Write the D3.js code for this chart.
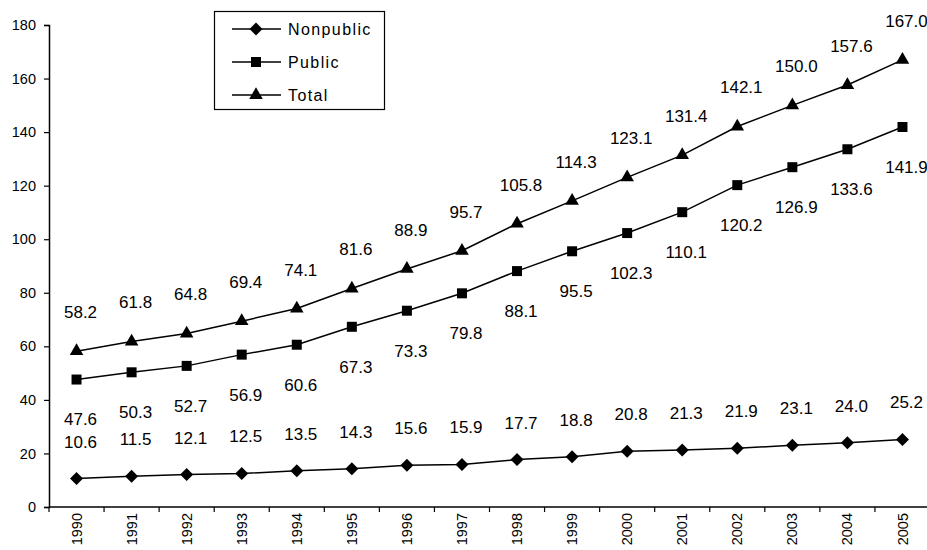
<!DOCTYPE html>
<html><head><meta charset="utf-8">
<script src="https://cdn.jsdelivr.net/npm/d3@7"></script>
<style>body{margin:0;background:#fff}svg{display:block}text{font-family:"Liberation Sans",Arial,sans-serif;fill:#000}</style>
</head><body><svg id="c" width="927" height="550"></svg>
<script>
const years = ["1990","1991","1992","1993","1994","1995","1996","1997","1998","1999","2000","2001","2002","2003","2004","2005"];
const nonpublic = [10.6,11.5,12.1,12.5,13.5,14.3,15.6,15.9,17.7,18.8,20.8,21.3,21.9,23.1,24.0,25.2];
const publicVals = [47.6,50.3,52.7,56.9,60.6,67.3,73.3,79.8,88.1,95.5,102.3,110.1,120.2,126.9,133.6,141.9];
const total = [58.2,61.8,64.8,69.4,74.1,81.6,88.9,95.7,105.8,114.3,123.1,131.4,142.1,150.0,157.6,167.0];
const yTicks = [0,20,40,60,80,100,120,140,160,180];
const seriesNames = ["Nonpublic","Public","Total"];

const svg = d3.select("#c");
const L = 49, R = 930, T = 25, B = 507;
const x = d3.scaleBand().domain(years).range([L, R]);
const y = d3.scaleLinear().domain([0,180]).range([B, T]);

// y axis
const ya = svg.append("g").attr("transform",`translate(${L},0)`)
  .call(d3.axisLeft(y).tickValues(yTicks).tickSize(5).tickPadding(8).tickFormat(d3.format("d")))
  .attr("font-size",14.5);
ya.select(".domain").attr("stroke","#000").attr("stroke-width",1.5);
ya.selectAll(".tick line").attr("stroke","#000").attr("stroke-width",1.2);
ya.selectAll(".tick text").attr("font-size",14.5).style("font-size","14.5px");

// x axis
const xa = svg.append("g").attr("transform",`translate(0,${B})`)
  .call(d3.axisBottom(x).tickSize(0).tickPadding(0))
  .attr("font-size",14.5);
xa.select(".domain").attr("stroke","#000").attr("stroke-width",1.5).attr("d",`M${L},0H${R}`);
xa.selectAll(".tick text").attr("transform","rotate(-90)").attr("text-anchor","end")
  .attr("x",-6).attr("y",0).attr("dy","0.35em").attr("font-size",14.5).style("font-size","14.5px");
const bounds = years.map(d => x(d)).concat([x(years[years.length-1]) + x.bandwidth()]);
xa.selectAll(".btick").data(bounds).enter().append("line")
  .attr("x1",d=>d).attr("x2",d=>d).attr("y1",0).attr("y2",5).attr("stroke","#000").attr("stroke-width",1.2);

const cx = d => x(d) + x.bandwidth()/2;
const diamond = "M0,-6.5L6.5,0L0,6.5L-6.5,0Z";
const symbols = {Nonpublic: () => diamond,
                 Public: d3.symbol().type(d3.symbolSquare).size(100),
                 Total: d3.symbol().type(d3.symbolTriangle).size(80)};
const data = {Nonpublic: nonpublic, Public: publicVals, Total: total};
const labelDy = {Nonpublic: -37, Public: 40, Total: -39};

seriesNames.forEach(name => {
  const vals = data[name];
  const line = d3.line().x((d,i)=>cx(years[i])).y(d=>y(d));
  svg.append("path").datum(vals).attr("d",line).attr("fill","none").attr("stroke","#000").attr("stroke-width",1.5);
  svg.append("g").selectAll("path").data(vals).enter().append("path")
    .attr("d",symbols[name]).attr("fill","#000")
    .attr("transform",(d,i)=>`translate(${cx(years[i])},${y(d)})`);
  svg.append("g").selectAll("text").data(vals).enter().append("text")
    .attr("x",(d,i)=>cx(years[i])+4).attr("y",d=>y(d)+labelDy[name])
    .attr("dy","0.35em").attr("text-anchor","middle").style("font-size","17px")
    .text(d=>d.toFixed(1));
});

// legend
const lg = svg.append("g");
lg.append("rect").attr("x",214.5).attr("y",11.5).attr("width",170).attr("height",98)
  .attr("fill","#fff").attr("stroke","#000").attr("stroke-width",1.2);
seriesNames.forEach((name,i) => {
  const ly = 29 + i*33;
  lg.append("line").attr("x1",232).attr("x2",281).attr("y1",ly).attr("y2",ly).attr("stroke","#000").attr("stroke-width",1.5);
  lg.append("path").attr("d",symbols[name]).attr("transform",`translate(256,${ly})`).attr("fill","#000");
  lg.append("text").attr("x",288).attr("y",ly).attr("dy","0.35em").style("font-size","16px")
    .style("letter-spacing","1.4px").text(name);
});
</script></body></html>
